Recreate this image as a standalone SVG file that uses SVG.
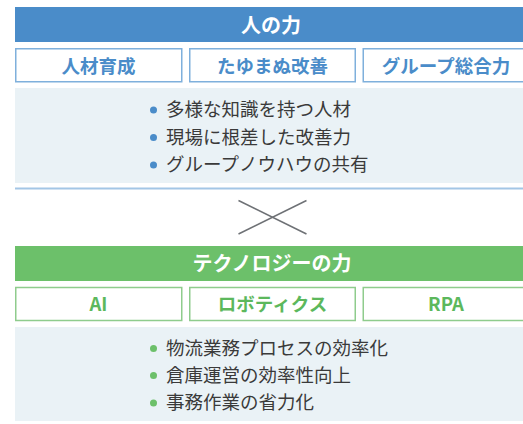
<svg xmlns="http://www.w3.org/2000/svg" width="523" height="424" viewBox="0 0 523 424">
<style>
text{font-family:"Noto Sans CJK JP","Noto Sans",sans-serif}
.title{fill:#fff;font-size:20px;font-weight:bold;text-anchor:middle}
.blab{fill:#4a8cc9;font-size:18.5px;font-weight:bold;text-anchor:middle}
.glab{fill:#5cb85c;font-size:18.5px;font-weight:bold;text-anchor:middle}
.bbox{fill:#fff;stroke:#7fb0dc;stroke-width:1.5}
.gbox{fill:#fff;stroke:#8fcc8d;stroke-width:1.5}
.panel{fill:#eaf2f6}
.item{fill:#3a3a3a;font-size:18.5px}
</style>
<rect width="523" height="424" fill="#fff"/>
<g id="human">
<rect x="15" y="7" width="520" height="35" fill="#4a8cc9"/>
<text class="title" x="271" y="33">人の力</text>
</g>
<g id="h1"><rect class="bbox" x="15.75" y="48.75" width="166" height="33"/><text class="blab" x="98.5" y="72.5">人材育成</text></g>
<g id="h2"><rect class="bbox" x="189.75" y="48.75" width="165.5" height="33"/><text class="blab" x="272.5" y="72.5">たゆまぬ改善</text></g>
<g id="h3"><rect class="bbox" x="363.25" y="48.75" width="166" height="33"/><text class="blab" x="446" y="72.5">グループ総合力</text></g>
<g id="hpanel">
<rect class="panel" x="15" y="88" width="520" height="95"/>
<circle cx="153.5" cy="110" r="3.5" fill="#4a8cc9"/>
<circle cx="153.5" cy="137.5" r="3.5" fill="#4a8cc9"/>
<circle cx="153.5" cy="165" r="3.5" fill="#4a8cc9"/>
<text class="item" x="166" y="116">多様な知識を持つ人材</text>
<text class="item" x="166" y="143.5">現場に根差した改善力</text>
<text class="item" x="166" y="171">グループノウハウの共有</text>
</g>
<g id="connectors">
<line x1="15" y1="188.5" x2="523" y2="188.5" stroke="#a3c6e6" stroke-width="2"/>
<line x1="238.5" y1="200.5" x2="306.5" y2="234" stroke="#6e7175" stroke-width="1.5"/>
<line x1="238.5" y1="234" x2="306.5" y2="200.5" stroke="#6e7175" stroke-width="1.5"/>
</g>
<g id="tech">
<rect x="15" y="246" width="520" height="35" fill="#6cc06a"/>
<text class="title" x="272" y="271">テクノロジーの力</text>
</g>
<g id="t1"><rect class="gbox" x="15.75" y="287.5" width="166" height="33"/><text class="glab" x="98.5" y="311">AI</text></g>
<g id="t2"><rect class="gbox" x="189.75" y="287.5" width="165.5" height="33"/><text class="glab" x="272.5" y="311">ロボティクス</text></g>
<g id="t3"><rect class="gbox" x="363.25" y="287.5" width="166" height="33"/><text class="glab" x="446" y="311">RPA</text></g>
<g id="tpanel">
<rect class="panel" x="15" y="327" width="520" height="94"/>
<circle cx="153.5" cy="348.5" r="3.5" fill="#6cc06a"/>
<circle cx="153.5" cy="375.5" r="3.5" fill="#6cc06a"/>
<circle cx="153.5" cy="403" r="3.5" fill="#6cc06a"/>
<text class="item" x="166" y="355">物流業務プロセスの効率化</text>
<text class="item" x="166" y="382">倉庫運営の効率性向上</text>
<text class="item" x="166" y="409">事務作業の省力化</text>
</g>
</svg>
